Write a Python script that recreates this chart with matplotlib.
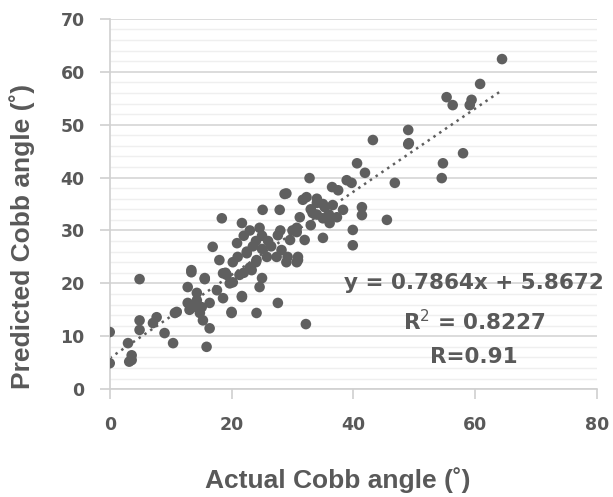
import matplotlib
matplotlib.use("Agg")
import matplotlib.pyplot as plt
import numpy as np

# actual vs predicted Cobb angle
actual = [0, 0, 4.9, 3.0, 3.6, 3.6, 3.2, 4.9, 4.9, 7.1, 7.7, 9.0, 10.4, 11.0, 15.9,
          16.4, 12.8, 13.4, 15.6, 12.8, 13.1, 14.8, 15.3, 14.3, 16.4, 20.0, 18.6,
          19.2, 20.2, 17.6, 18.4, 29.0, 32.3, 25.1, 27.9, 21.7, 24.6, 27.6, 30.7,
          32.0, 35.0, 16.9, 20.9, 22.5, 18.0, 20.2, 24.1, 25.8, 27.4, 29.0, 30.7,
          13.4, 15.6, 18.6, 21.3, 23.3, 25.0, 24.6, 21.7, 19.7, 27.6, 14.3,
          40.6, 41.9, 46.8, 49.0, 43.2, 32.8, 36.5, 38.9, 39.7, 37.5, 31.7, 34.0,
          35.3, 36.6, 38.3, 41.4, 41.4, 45.5, 31.2, 33.3, 35.0, 36.1, 37.3, 39.9,
          39.9, 30.7, 29.6, 28.2, 30.9, 64.4, 60.8, 55.3, 56.3, 59.4, 59.1, 49.0,
          49.1, 58.0, 54.7, 54.5, 32.2, 24.1, 20.0, 21.7, 28.7, 30.0, 29.2, 30.9,
          10.7, 15.1, 13.6, 22.0, 23.0, 24.0, 22.5, 23.5, 25.0, 21.0, 19.0, 24.0,
          26.0, 25.0, 23.0, 22.0, 33.0, 34.0, 35.0, 36.0, 34.0, 33.0, 26.5, 28.0]
predicted = [10.8, 4.9, 20.8, 8.7, 6.4, 5.5, 5.2, 13.0, 11.2, 12.5, 13.6, 10.6, 8.7,
             14.6, 8.0, 11.5, 16.3, 22.1, 20.8, 19.3, 15.0, 14.4, 13.0, 16.8, 16.3,
             14.6, 17.2, 21.6, 20.2, 18.7, 32.3, 37.0, 36.3, 33.9, 33.9, 31.4, 30.5,
             29.1, 29.7, 28.2, 28.6, 26.9, 27.6, 25.7, 24.4, 24.0, 24.4, 25.0, 25.0,
             24.0, 24.0, 22.5, 21.0, 21.9, 21.6, 22.5, 21.0, 19.3, 17.4, 20.0, 16.3,
             18.2, 42.7, 40.9, 39.0, 46.3, 47.1, 39.9, 38.2, 39.5, 39.0, 37.6, 35.8,
             35.2, 34.4, 34.8, 33.9, 34.4, 32.9, 32.0, 32.5, 33.3, 32.3, 31.4, 32.5,
             30.1, 27.2, 30.5, 28.2, 26.3, 25.0, 62.4, 57.7, 55.2, 53.7, 54.7, 53.7,
             49.0, 46.5, 44.6, 42.7, 39.9, 12.3, 14.4, 14.4, 17.6, 36.9, 30.0, 25.0,
             24.4, 14.4, 15.5, 15.5, 22.0, 23.0, 24.0, 26.0, 27.0, 26.5, 25.0, 22.0,
             28.0, 28.0, 29.0, 30.0, 29.0, 34.0, 33.0, 35.0, 33.0, 36.0, 31.0, 27.0, 30.0]

slope = 0.7864
intercept = 5.8672
eq_lines = ["y = 0.7864x + 5.8672", "R$^{2}$ = 0.8227", "R=0.91"]

grey = "#5f5f5f"
txt = "#595959"

fig = plt.figure(figsize=(6.13, 4.97), dpi=100)
ax = fig.add_axes([0.179, 0.217, 0.795, 0.745])

ax.scatter(actual, predicted, s=58, color=grey, edgecolors="none", zorder=3)

# linear trendline over the data range
xs = np.array([min(actual), max(actual)])
ax.plot(xs, slope * xs + intercept, color=grey, lw=1.8, ls=(0, (1, 1.8)), zorder=2)

ax.set_xlim(0, 80)
ax.set_ylim(0, 70)
ax.set_xticks(range(0, 81, 20))
ax.set_yticks(range(0, 71, 10))
ax.set_yticks(np.arange(0, 71, 2), minor=True)
ax.grid(True, which="major", axis="y", color="#d6d6d6", lw=1.2, zorder=0)
ax.grid(True, which="minor", axis="y", color="#efefef", lw=1, zorder=0)
ax.set_axisbelow(True)

for s in ["top", "right"]:
    ax.spines[s].set_visible(False)
for s in ["left", "bottom"]:
    ax.spines[s].set_color("#d0d0d0")
    ax.spines[s].set_linewidth(1.2)
ax.tick_params(axis="both", which="major", colors="#d0d0d0", length=7, width=1.2,
               labelcolor=txt, labelsize=12.5)
ax.tick_params(axis="y", which="major", pad=11)
ax.tick_params(axis="x", which="major", pad=12)
ax.tick_params(axis="y", which="minor", length=0)
for lab in ax.get_xticklabels() + ax.get_yticklabels():
    lab.set_fontweight("bold")

fig.text(338 / 613, 1 - 480 / 497, "Actual Cobb angle (˚)", ha="center", va="center",
         fontsize=19, fontweight="bold", color=txt, family="Liberation Sans")
fig.text(22 / 613, 1 - 236 / 497, "Predicted Cobb angle (˚)", ha="center", va="center",
         rotation=90, fontsize=19, fontweight="bold", color=txt, family="Liberation Sans")

for yy, line in zip([20, 12.7, 6.1], eq_lines):
    ax.text(59.8, yy, line, ha="center", va="center", fontsize=15.5, fontweight="bold",
            color=txt, clip_on=False, zorder=4)

fig.savefig("out.png", dpi=100)
